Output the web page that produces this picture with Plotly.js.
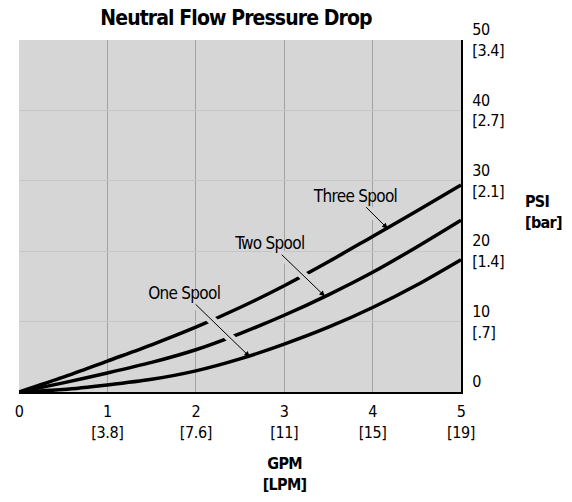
<!DOCTYPE html>
<html>
<head>
<meta charset="utf-8">
<script src="https://cdn.plot.ly/plotly-3.0.1.min.js"></script>
<style>
  html, body { margin: 0; padding: 0; background: #ffffff; }
  #chart { width: 572px; height: 502px; }
  #chart svg text { letter-spacing: -0.4px; }
  #chart svg .gtitle { letter-spacing: -0.9px; }
  #chart svg .annotation text { letter-spacing: -0.7px; }
</style>
</head>
<body>
<div id="chart"></div>
<script>
// ---- data ----
const flowGPM = [0, 0.5, 1, 1.5, 2, 2.5, 3, 3.5, 4, 4.5, 5];
const oneSpool = [0, 0.35, 1.0, 1.8, 3.0, 4.7, 6.8, 9.2, 12.0, 15.2, 18.8];
const twoSpool = [0, 1.3, 2.7, 4.2, 6.0, 8.3, 10.9, 13.8, 17.0, 20.6, 24.4];
const threeSpool = [0, 2.1, 4.4, 6.7, 9.2, 12.0, 15.1, 18.5, 22.1, 25.7, 29.4];

const xTickVals = [0, 1, 2, 3, 4, 5];
const xTickText = ['0', '1<br>[3.8]', '2<br>[7.6]', '3<br>[11]', '4<br>[15]', '5<br>[19]'];
const yTickVals = [0, 10, 20, 30, 40, 50];
const yTickText = ['0<br> ', '10<br>[.7]', '20<br>[1.4]', '30<br>[2.1]', '40<br>[2.7]', '50<br>[3.4]'];

const seriesNames = ['One Spool', 'Two Spool', 'Three Spool'];
// label anchor points on each curve (where the arrow points)
const labelPointX = [2.61, 3.46, 4.17];
const labelPointY = [5.0, 13.6, 23.2];

const FONT = '"DejaVu Sans Condensed", "Liberation Sans", sans-serif';
const BG = '#d6d6d6';

const lineStyle = { color: '#000000', width: 3.5, shape: 'spline', smoothing: 0.8 };
const traces = [
  { x: flowGPM, y: oneSpool, name: seriesNames[0], mode: 'lines', line: lineStyle, hoverinfo: 'skip' },
  { x: flowGPM, y: twoSpool, name: seriesNames[1], mode: 'lines', line: lineStyle, hoverinfo: 'skip' },
  { x: flowGPM, y: threeSpool, name: seriesNames[2], mode: 'lines', line: lineStyle, hoverinfo: 'skip' }
];

const labelOffsets = [[-66, -64], [-55, -53], [-33, -33]];
const annotations = [];
// background-coloured halos that cut gaps in the curves where the arrows cross
for (let i = 0; i < 3; i++) {
  annotations.push({
    x: labelPointX[i], y: labelPointY[i], xref: 'x', yref: 'y',
    ax: labelOffsets[i][0], ay: labelOffsets[i][1],
    text: '', showarrow: true, arrowhead: 0, arrowwidth: 9,
    arrowcolor: BG, standoff: 9
  });
}
for (let i = 0; i < 3; i++) {
  annotations.push({
    x: labelPointX[i], y: labelPointY[i], xref: 'x', yref: 'y',
    ax: labelOffsets[i][0], ay: labelOffsets[i][1],
    text: seriesNames[i], showarrow: true, arrowhead: 2, arrowsize: 1.1,
    arrowwidth: 1, arrowcolor: '#000000',
    font: { family: FONT, size: 17, color: '#000000' }
  });
}
annotations.push({
  x: 3, xref: 'x', y: 0, yref: 'paper', yanchor: 'top', yshift: -60,
  text: '<b>GPM</b><br><b>[LPM]</b>', showarrow: false, align: 'center',
  font: { family: FONT, size: 16, color: '#000000' }
});
annotations.push({
  x: 1.19, xref: 'paper', y: 0.51, yref: 'paper', xanchor: 'center', yanchor: 'middle',
  text: '<b>PSI</b><br><b>[bar]</b>', showarrow: false, align: 'left',
  font: { family: FONT, size: 16, color: '#000000' }
});

const layout = {
  width: 572, height: 502,
  margin: { l: 19, r: 111, t: 40, b: 110, pad: 0 },
  paper_bgcolor: '#ffffff',
  plot_bgcolor: BG,
  showlegend: false,
  title: {
    text: 'Neutral Flow Pressure Drop',
    x: 0.4126, xref: 'container', xanchor: 'center',
    y: 0.964, yref: 'container', yanchor: 'middle',
    font: { family: FONT, size: 21, weight: 'bold', color: '#000000' }
  },
  xaxis: {
    range: [0, 5], tickvals: xTickVals, ticktext: xTickText,
    showgrid: true, gridcolor: '#a2a2a2', gridwidth: 1,
    zeroline: false, showline: true, linecolor: '#000000', linewidth: 2,
    ticks: '', ticklabelstandoff: 4,
    tickfont: { family: FONT, size: 16, color: '#000000' },
    fixedrange: true
  },
  yaxis: {
    side: 'right', range: [0, 50], tickvals: yTickVals, ticktext: yTickText,
    showgrid: true, gridcolor: '#c6c6c6', gridwidth: 1,
    zeroline: false, showline: true, linecolor: '#000000', linewidth: 2,
    ticks: '', ticklabelstandoff: 6,
    tickfont: { family: FONT, size: 16, color: '#000000' },
    fixedrange: true
  },
  annotations: annotations
};

Plotly.newPlot('chart', traces, layout, { staticPlot: true, displayModeBar: false });
</script>
</body>
</html>
